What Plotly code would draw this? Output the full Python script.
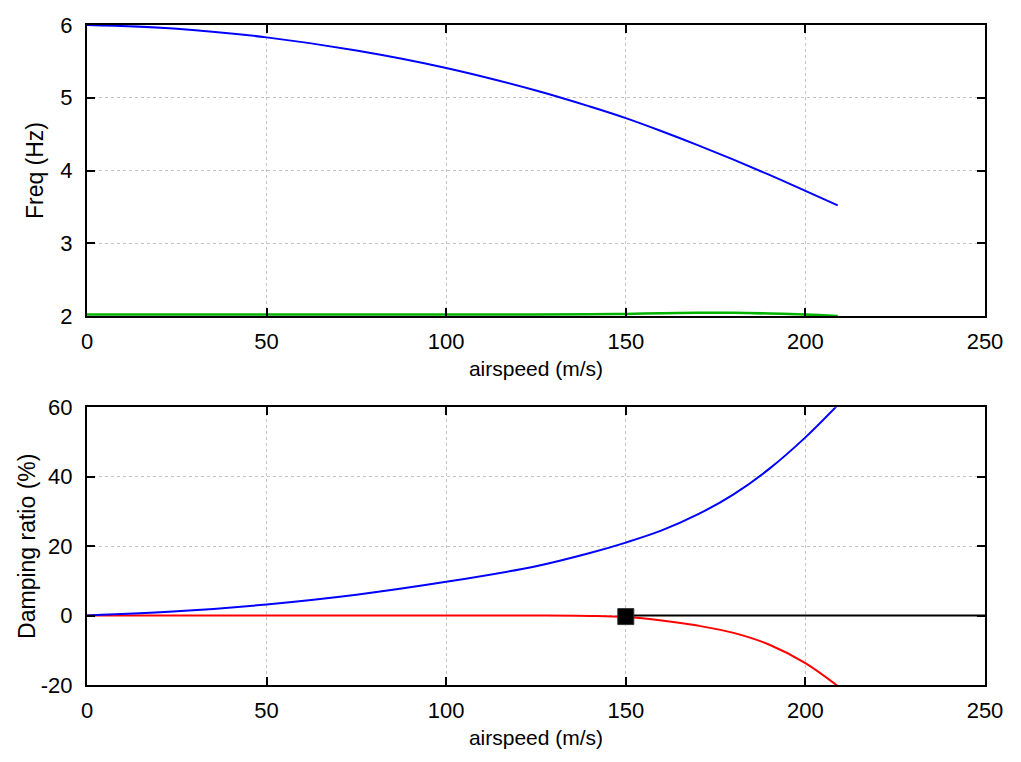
import plotly.graph_objects as go
from plotly.subplots import make_subplots

# airspeed samples (m/s)
speed = [0, 25, 50, 75, 100, 125, 140, 150, 160, 170, 180, 190, 200, 209]

# top panel - frequency (Hz)
freq_blue = [6.0, 5.95, 5.83, 5.65, 5.41, 5.10, 4.88, 4.72, 4.54, 4.35, 4.15, 3.94, 3.72, 3.52]
freq_green = [2.02, 2.02, 2.02, 2.02, 2.02, 2.02, 2.025, 2.03, 2.04, 2.045, 2.045, 2.035, 2.02, 2.0]

# bottom panel - damping ratio (%)
damp_blue = [0.0, 1.2, 3.2, 6.0, 9.7, 14.2, 18.0, 21.0, 24.5, 29.1, 34.9, 42.3, 51.3, 60.6]
damp_red = [0.0, 0.0, 0.0, 0.0, 0.0, 0.0, -0.1, -0.4, -1.4, -2.9, -5.0, -8.4, -13.7, -20.3]

zero_x = [150, 250]
zero_y = [0, 0]
flutter_x = [150]
flutter_y = [-0.3]

fig = make_subplots(rows=2, cols=1)

fig.add_trace(go.Scatter(x=speed, y=freq_green, mode='lines', line=dict(color='#00b400', width=2.5, shape='spline')), row=1, col=1)
fig.add_trace(go.Scatter(x=speed, y=freq_blue, mode='lines', line=dict(color='#0000ff', width=2, shape='spline')), row=1, col=1)

fig.add_trace(go.Scatter(x=zero_x, y=zero_y, mode='lines', line=dict(color='black', width=2)), row=2, col=1)
fig.add_trace(go.Scatter(x=speed, y=damp_red, mode='lines', line=dict(color='#ff0000', width=2, shape='spline')), row=2, col=1)
fig.add_trace(go.Scatter(x=speed, y=damp_blue, mode='lines', line=dict(color='#0000ff', width=2, shape='spline')), row=2, col=1)
fig.add_trace(go.Scatter(x=flutter_x, y=flutter_y, mode='markers',
                         marker=dict(symbol='square', color='black', size=16, line=dict(color='#333', width=1))),
              row=2, col=1)

font_name = 'Liberation Sans, Arial, sans-serif'
tick_font = dict(size=22, color='black', family=font_name)
xtitle_font = dict(size=21, color='black', family=font_name)
ytitle_font = dict(size=23, color='black', family=font_name)

axis_style = dict(
    showline=True, linecolor='black', linewidth=2, mirror='ticks',
    ticks='inside', ticklen=8, tickcolor='black', tickwidth=1.5,
    showgrid=True, gridcolor='#c4c4c4', griddash='dot', gridwidth=1,
    zeroline=False, tickfont=tick_font, automargin=False,
)

fig.update_xaxes(axis_style)
fig.update_yaxes(axis_style)

fig.update_xaxes(range=[0, 250], dtick=50, ticklabelstandoff=5,
                 title=dict(text='airspeed (m/s)', font=xtitle_font, standoff=8), row=1, col=1)
fig.update_xaxes(range=[0, 250], dtick=50, ticklabelstandoff=5,
                 title=dict(text='airspeed (m/s)', font=xtitle_font, standoff=8), row=2, col=1)
fig.update_yaxes(range=[2, 6], tickvals=[2, 3, 4, 5, 6], ticklabelstandoff=8, domain=[0.559, 1.0],
                 title=dict(text='Freq (Hz)', font=ytitle_font, standoff=10), row=1, col=1)
fig.update_yaxes(range=[-20, 60], tickvals=[-20, 0, 20, 40, 60], ticktext=['-20', '0', '20', '40', '60'],
                 ticklabelstandoff=8, domain=[0.0, 0.421], row=2, col=1)

# y title of the lower panel placed by hand, it sits closer to the axis than the standoff allows
fig.add_annotation(text='Damping ratio (%)', xref='paper', yref='paper', x=-0.067, y=0.2105,
                   xanchor='center', yanchor='middle', textangle=-90, showarrow=False, font=ytitle_font)

# page body adds 8px offset, so margins are shifted to keep the plot box in place
fig.update_layout(
    width=1021, height=762,
    margin=dict(l=79, r=44, t=17, b=85),
    showlegend=False,
    plot_bgcolor='white', paper_bgcolor='white',
    font=dict(family=font_name, color='black'),
)

fig.write_html("out.html")
